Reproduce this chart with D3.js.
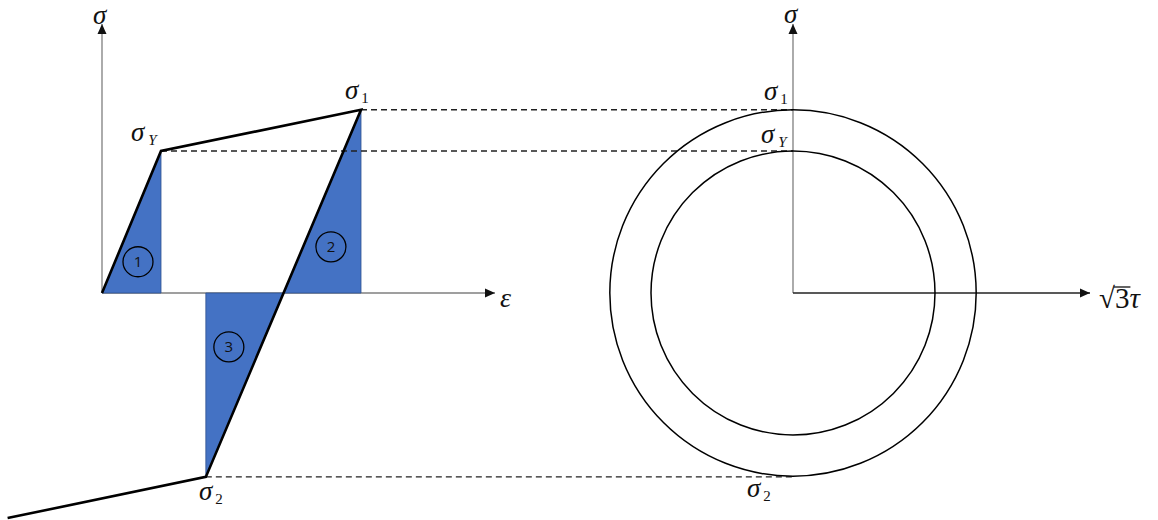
<!DOCTYPE html>
<html>
<head>
<meta charset="utf-8">
<script src="https://cdn.jsdelivr.net/npm/d3@7"></script>
<style>
  html, body { margin: 0; padding: 0; background: #fff; }
  svg { display: block; }
  .sym { font-family: "Liberation Serif", "DejaVu Serif", serif; font-style: italic; fill: #111; }
  .num { font-family: "Open Sans", "Noto Sans", sans-serif; fill: #111; }
</style>
</head>
<body>
<script>
// Stress–strain loading path (strain in units of yield strain, stress in units of yield stress)
const pathStrain = [0, 1.0, 4.39, 1.76, -1.6];
const pathStress = [0, 1.0, 1.29, -1.295, -1.585];

// Key stress levels and their labels
const levelNames  = ["1", "Y", "2"];
const levelStress = [1.29, 1.0, -1.295];

// Energy areas: circled number positions
const areaNames  = ["1", "2", "3"];
const areaStrain = [0.61, 3.88, 2.15];
const areaStress = [0.22, 0.325, -0.38];

// Yield surfaces (radius in stress units): initial and expanded
const surfaceRadius = [1.0, 1.29];

const W = 1158, H = 520;
const svg = d3.select("body").append("svg").attr("width", W).attr("height", H);

const xs = d3.scaleLinear().domain([0, 1]).range([102, 161]);
const ys = d3.scaleLinear().domain([0, 1]).range([293, 151]);
const cx = 793, cy = ys(0);
const rad = s => ys(0) - ys(s);

const pts = pathStrain.map((e, i) => [e, pathStress[i]]);
const O = pts[0], Y = pts[1], P1 = pts[2], P2 = pts[3];
// strain where the unloading branch crosses zero stress
const eCross = P1[0] + (0 - P1[1]) * (P2[0] - P1[0]) / (P2[1] - P1[1]);

const line = d3.line().x(d => xs(d[0])).y(d => ys(d[1]));

function arrow(g, x1, y1, x2, y2, color) {
  g.append("line").attr("x1", x1).attr("y1", y1).attr("x2", x2).attr("y2", y2)
    .attr("stroke", color).attr("stroke-width", 1.3);
  const ang = Math.atan2(y2 - y1, x2 - x1);
  const L = 10, Wd = 4.5;
  const bx = x2 - L * Math.cos(ang), by = y2 - L * Math.sin(ang);
  const px = -Math.sin(ang) * Wd, py = Math.cos(ang) * Wd;
  g.append("path")
    .attr("d", `M${x2},${y2}L${bx + px},${by + py}L${bx - px},${by - py}Z`)
    .attr("fill", "#111");
}

// ---- axes ----
const ax = svg.append("g");
arrow(ax, xs(0), ys(0), xs(0), 24, "#7f7f7f");
arrow(ax, xs(0), ys(0), 495, ys(0), "#7f7f7f");
arrow(ax, cx, cy, cx, 24, "#7f7f7f");
arrow(ax, cx, cy, 1090, cy, "#222");

// ---- shaded areas ----
const areas = [
  [O, Y, [Y[0], 0]],
  [[eCross, 0], P1, [P1[0], 0]],
  [[P2[0], 0], [eCross, 0], P2]
];
svg.append("g").selectAll("path").data(areas).join("path")
  .attr("d", d => line(d) + "Z")
  .attr("fill", "#4472c4")
  .attr("stroke", "#2f528f")
  .attr("stroke-width", 0.8);

// ---- dashed projection lines ----
svg.append("g").selectAll("line").data(levelStress).join("line")
  .attr("x1", (d, i) => xs([P1, Y, P2][i][0]))
  .attr("x2", cx)
  .attr("y1", d => ys(d)).attr("y2", d => ys(d))
  .attr("stroke", "#222").attr("stroke-width", 1.4)
  .attr("stroke-dasharray", "6,4");

// ---- loading path ----
svg.append("path").attr("d", line(pts))
  .attr("fill", "none").attr("stroke", "#000")
  .attr("stroke-width", 2.6).attr("stroke-linejoin", "miter");

// ---- yield circles ----
svg.append("g").selectAll("circle").data(surfaceRadius).join("circle")
  .attr("cx", cx).attr("cy", cy).attr("r", d => rad(d))
  .attr("fill", "none").attr("stroke", "#000").attr("stroke-width", 1.5);

// ---- circled area numbers ----
const ag = svg.append("g").selectAll("g").data(areaNames).join("g")
  .attr("transform", (d, i) => `translate(${xs(areaStrain[i])},${ys(areaStress[i])})`);
ag.append("circle").attr("r", 15).attr("fill", "none")
  .attr("stroke", "#000").attr("stroke-width", 1.3);
ag.append("text").attr("class", "num").attr("text-anchor", "middle")
  .attr("dy", "0.36em").attr("font-size", 15).text(d => d);

// ---- labels ----
function sigma(x, y, sub) {
  const t = svg.append("text").attr("class", "sym").attr("x", x).attr("y", y)
    .attr("font-size", 27);
  t.append("tspan").text("σ");
  if (sub) t.append("tspan").attr("font-size", 15)
    .attr("font-style", sub === "Y" ? "italic" : "normal")
    .attr("dx", sub === "Y" ? 4 : 3).attr("dy", 4).text(sub);
}
sigma(93, 24);
sigma(784, 23);

// labels at the path vertices and on the σ axis
const leftLabelPos = [[345, 99], [131, 141], [199, 500]];
const rightLabelPos = [[764, 100], [761, 143], [747, 497]];
levelNames.forEach((n, i) => {
  sigma(leftLabelPos[i][0], leftLabelPos[i][1], n);
  sigma(rightLabelPos[i][0], rightLabelPos[i][1], n);
});

svg.append("text").attr("class", "sym").attr("x", 500).attr("y", 307)
  .attr("font-size", 28).text("ε");

// √3τ label
const rt = svg.append("text").attr("class", "sym").attr("x", 1099).attr("y", 308)
  .attr("font-size", 29);
rt.append("tspan").attr("font-style", "normal").text("√");
rt.append("tspan").attr("font-style", "normal").text("3");
rt.append("tspan").text("τ");
const node = rt.node();
const s3 = node.getStartPositionOfChar(1).x;
const e3 = node.getEndPositionOfChar(1).x;
svg.append("line").attr("x1", s3 - 1).attr("x2", e3 + 1)
  .attr("y1", 287).attr("y2", 287)
  .attr("stroke", "#111").attr("stroke-width", 1.3);
</script>
</body>
</html>
